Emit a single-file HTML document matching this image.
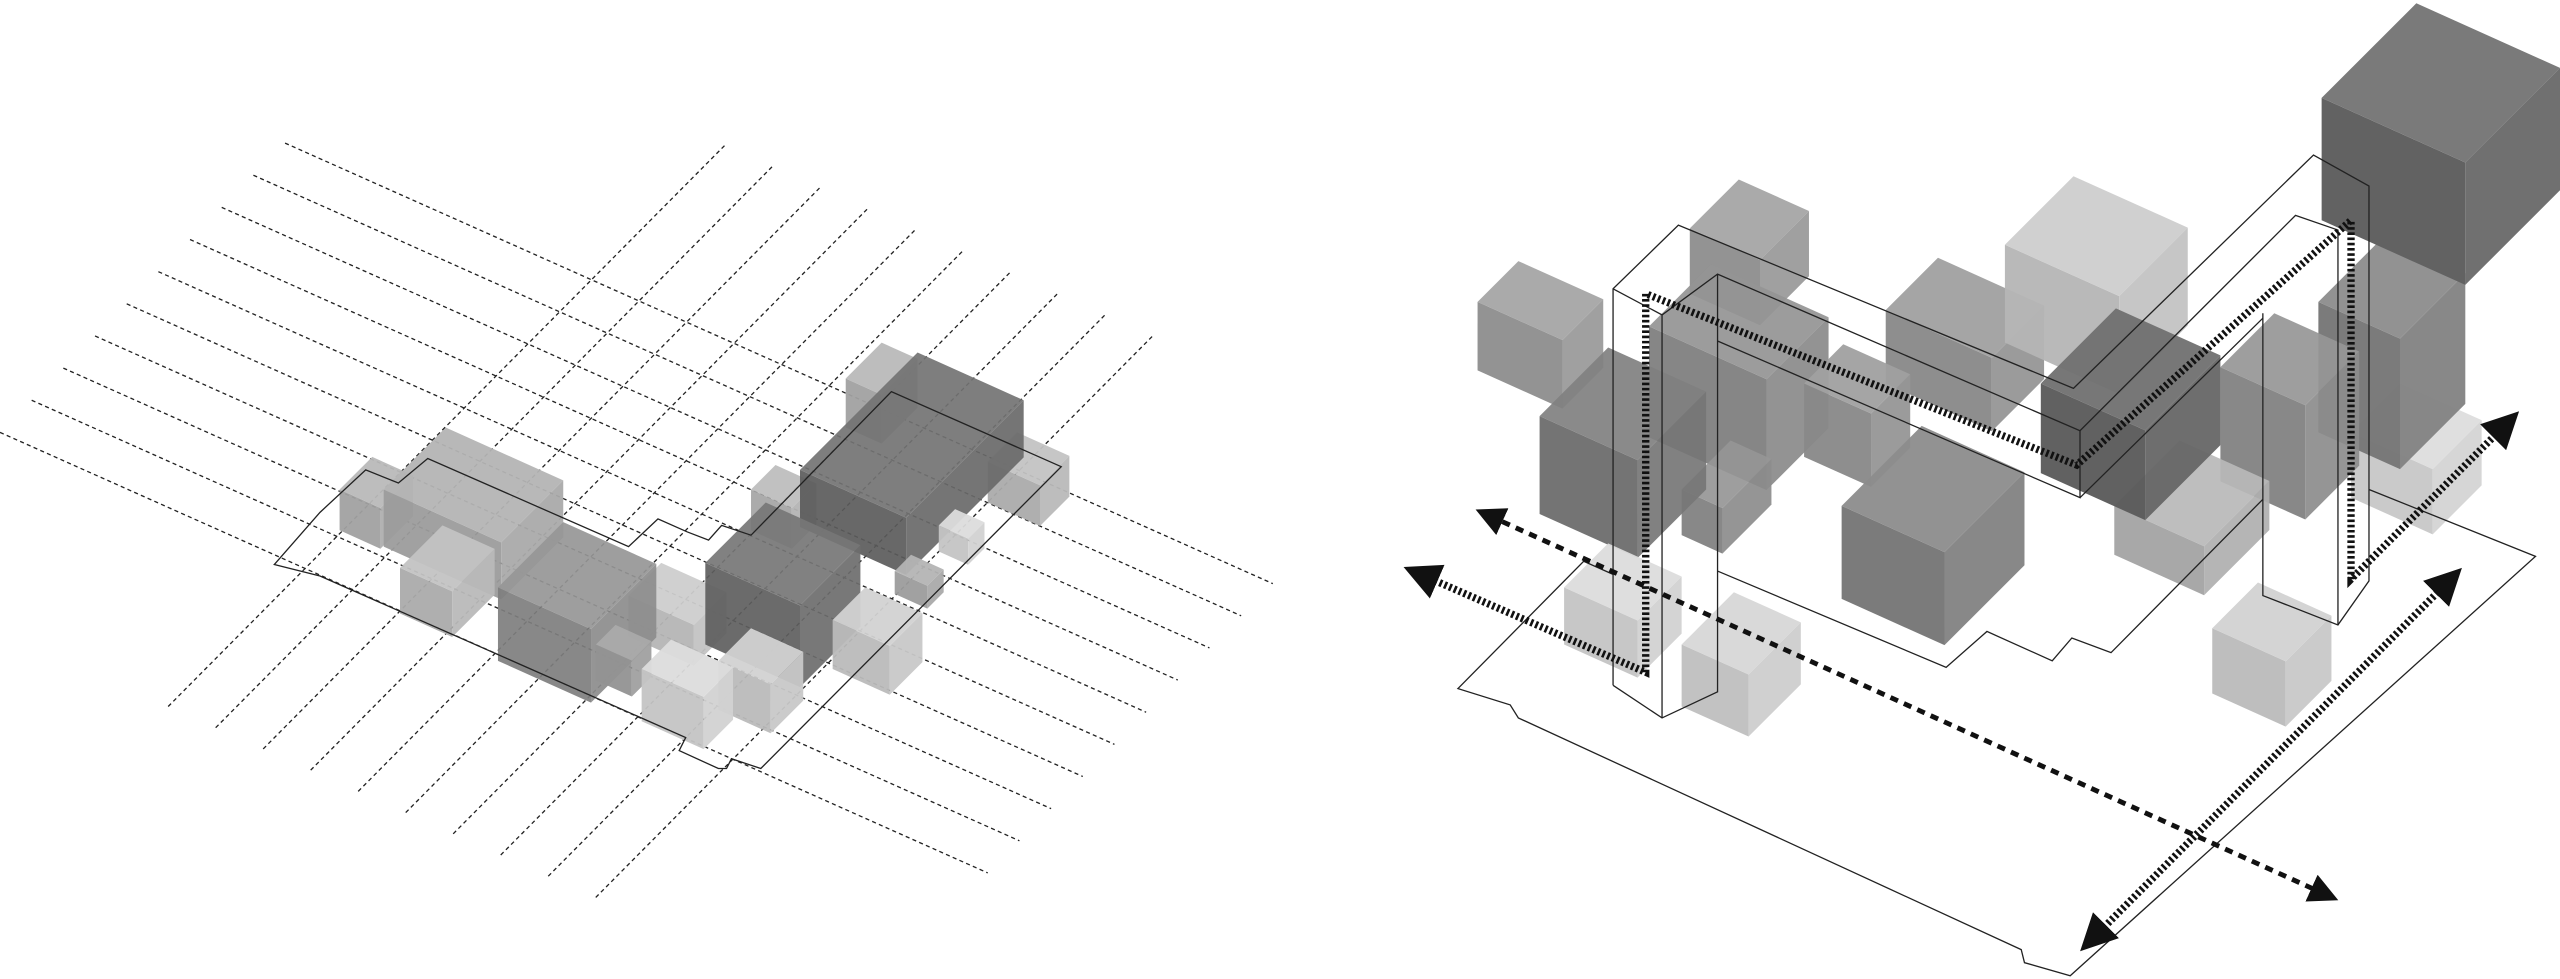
<!DOCTYPE html>
<html><head><meta charset="utf-8">
<style>html,body{margin:0;padding:0;background:#fff;width:2560px;height:979px;overflow:hidden}svg{display:block}</style>
</head><body>
<svg id="s" width="2560" height="979" viewBox="0 0 1568 600" preserveAspectRatio="none" xmlns="http://www.w3.org/2000/svg">
<defs>
<marker id="ah" viewBox="0 0 10 10" refX="5" refY="5" markerWidth="5" markerHeight="5" orient="auto-start-reverse" markerUnits="strokeWidth">
<path d="M0,0 L10,5 L0,10 z" fill="#111"/></marker>
<marker id="ah2" viewBox="0 0 10 10" refX="5" refY="5" markerWidth="6" markerHeight="6" orient="auto-start-reverse" markerUnits="strokeWidth">
<path d="M0,0 L10,5 L0,10 z" fill="#111"/></marker>
</defs>
<g id="grid" stroke="#222" stroke-width="0.8" stroke-dasharray="2.5 2" fill="none"></g>
<g id="boxesL"></g>
<g id="outL" stroke="#222" stroke-width="0.8" fill="none">
<path d="M168,346 L196,314 L224,288 L244,296 L262,281 L385,335 L403,318 L421,326 L434,331 L442,322 L460,328 L546,240 L650,286 L466,471 L448,465 L445,471 L440,471 L416,460 L420,452 L196,353 Z"/>
</g>
<g id="boxesR"></g>
<g id="outR" stroke="#222" stroke-width="0.8" fill="none">
<path d="M988,352 L970,344 L893,422 L925,432 L930,440 L1238,582 L1240,590 L1268,598 L1553,341 L1451,300"/>
<path d="M1052,350 L1192,409 L1217,387 L1257,405 L1269,391 L1293,400 L1386,306"/>
<path d="M988,420 L988,177 L1028,138 L1270,238 L1417,95 L1451,114 L1451,356 L1432,383 L1386,365 L1386,192"/>
<path d="M988,177 L1018,193 L1018,440 M1018,193 L1052,168 L1274,264 L1406,132 L1432,141 L1432,383"/>
<path d="M1052,168 L1052,424 L1018,440 L988,420 M1052,209 L1274,305 L1274,264 M1274,305 L1386,195"/>
</g>
<g fill="none" stroke="#111">
<path d="M870,352 L1008,412 L1008,180 L1272,285 L1440,135 L1440,355 L1535,260" stroke-width="4.5" stroke-dasharray="1.6 1.6" marker-start="url(#ah)" marker-end="url(#ah)"/>
<path d="M912,316 L1424,548" stroke-width="3" stroke-dasharray="5 4" marker-start="url(#ah2)" marker-end="url(#ah2)"/>
<path d="M1282,575 L1500,356" stroke-width="4.5" stroke-dasharray="1.6 1.6" marker-start="url(#ah)" marker-end="url(#ah)"/>
</g>
</svg>
<script>
var NS="http://www.w3.org/2000/svg";
var g=document.getElementById('grid');
function line(x1,y1,x2,y2){var l=document.createElementNS(NS,'line');l.setAttribute('x1',x1);l.setAttribute('y1',y1);l.setAttribute('x2',x2);l.setAttribute('y2',y2);g.appendChild(l);}
for(var i=0;i<10;i++){var sx=0+i*19.4,sy=265-i*19.7;line(sx,sy,sx+605,sy+270);}
for(var i=0;i<10;i++){var sx=103+i*29.1,sy=433+i*13;line(sx,sy,sx+342,sy-345);}
function hex(v){v=Math.max(0,Math.min(255,Math.round(v)));var h=v.toString(16);if(h.length<2)h='0'+h;return '#'+h+h+h;}
function poly(par,pts,c,op){var p=document.createElementNS(NS,'polygon');p.setAttribute('points',pts.map(function(q){return q[0].toFixed(1)+','+q[1].toFixed(1)}).join(' '));p.setAttribute('fill',c);if(op)p.setAttribute('fill-opacity',op);par.appendChild(p);}
function box(par,lx,ly,a,b,h,gv,op){
 var LT=[lx,ly],FT=[lx+a,ly+.45*a],BT=[lx+b,ly-b],RT=[lx+a+b,ly+.45*a-b];
 var LB=[lx,ly+h],FB=[FT[0],FT[1]+h],RB=[RT[0],RT[1]+h];
 poly(par,[LB,FB,FT,LT],hex(gv-24),op);
 poly(par,[FB,RB,RT,FT],hex(gv-10),op);
 poly(par,[LT,FT,RT,BT],hex(gv),op);
}
var L=document.getElementById('boxesL');
box(L,518,232,22,22,30,185,0.95);
box(L,605,283,32,18,25,195,0.95);
box(L,208,300,25,20,25,185,0.95);
box(L,235,300,72,38,35,180,0.95);
box(L,245,348,32,26,28,195,0.95);
box(L,385,365,40,20,25,205,0.95);
box(L,460,300,25,15,25,190,0.95);
box(L,305,360,57,40,45,150,0.92);
box(L,490,288,65,72,35,115,0.92);
box(L,432,345,58,37,50,118,0.92);
box(L,365,395,22,12,22,170,0.95);
box(L,510,380,35,20,30,210,0.95);
box(L,440,405,32,20,30,210,0.95);
box(L,393,410,38,18,32,220,0.95);
box(L,575,322,18,10,16,220,0.95);
box(L,548,350,20,10,14,180,0.95);
var R=document.getElementById('boxesR');
box(R,1155,190,65,32,45,160,0.95);
box(R,1228,150,70,42,60,205,0.95);
box(R,1035,140,43,30,40,165,0.95);
box(R,905,185,52,25,42,165,0.95);
box(R,1010,200,72,38,68,148,0.92);
box(R,1030,300,25,30,28,150,0.92);
box(R,943,255,60,42,60,128,0.92);
box(R,1105,235,41,24,45,160,0.95);
box(R,1128,310,63,49,57,140,0.95);
box(R,1440,265,50,30,40,220,0.9);
box(R,1420,185,50,40,80,140,0.95);
box(R,1360,225,52,33,70,150,0.92);
box(R,1295,310,55,40,30,185,0.92);
box(R,1250,235,64,46,55,112,0.95);
box(R,1422,60,88,58,75,122,1);
box(R,958,360,45,27,35,220,0.95);
box(R,1030,395,41,32,38,215,0.95);
box(R,1355,385,45,28,40,210,0.95);
</script>
</body></html>
